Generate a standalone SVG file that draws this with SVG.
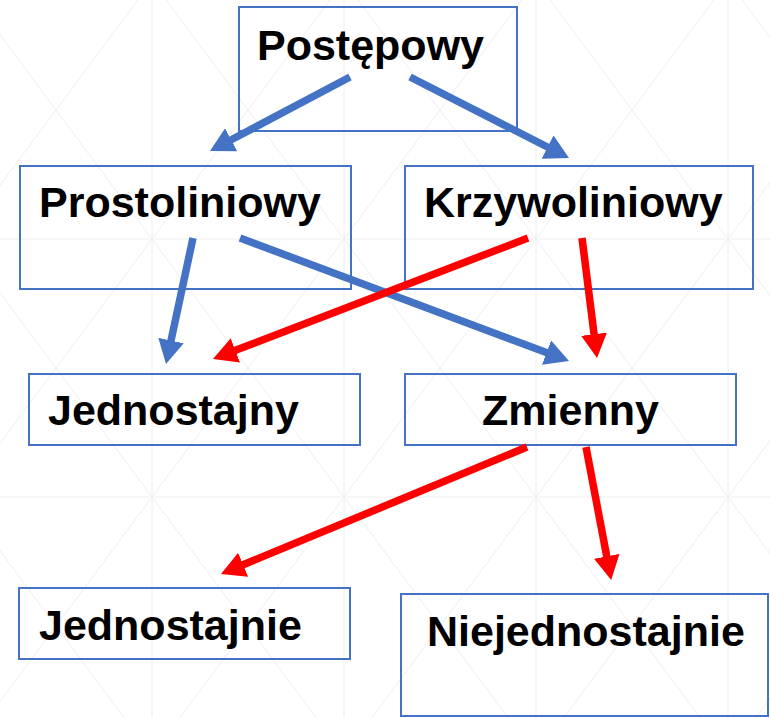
<svg xmlns="http://www.w3.org/2000/svg" width="770" height="718" viewBox="0 0 770 718">
  <style>
    .bg line { stroke: #eeeeee; stroke-width: 1; }
    .box { fill: none; stroke: #4472C4; stroke-width: 2; }
    .lbl { font-family: "Liberation Sans", Arial, sans-serif; font-weight: bold; font-size: 43px; fill: #000000; }
    .blue { stroke: #4472C4; stroke-width: 7.5; fill: none; }
    .red { stroke: #FF0000; stroke-width: 7.5; fill: none; }
  </style>
  <defs>
    <marker id="ahBlue" markerUnits="userSpaceOnUse" markerWidth="24" markerHeight="26" refX="2" refY="13" orient="auto" viewBox="0 0 24 26">
      <path d="M0,0 L24,13 L0,26 Z" fill="#4472C4"/>
    </marker>
    <marker id="ahRed" markerUnits="userSpaceOnUse" markerWidth="24" markerHeight="26" refX="2" refY="13" orient="auto" viewBox="0 0 24 26">
      <path d="M0,0 L24,13 L0,26 Z" fill="#FF0000"/>
    </marker>
  </defs>
  <rect x="0" y="0" width="770" height="718" fill="#ffffff"/>
  <g class="bg">
    <line x1="152" y1="0" x2="152" y2="718"/>
    <line x1="344" y1="0" x2="344" y2="718"/>
    <line x1="536" y1="0" x2="536" y2="718"/>
    <line x1="728" y1="0" x2="728" y2="718"/>
    <line x1="0" y1="239" x2="770" y2="239"/>
    <line x1="0" y1="497" x2="770" y2="497"/>
    <line x1="-409.9" y1="0" x2="124.4" y2="718"/>
    <line x1="-217.9" y1="0" x2="316.4" y2="718"/>
    <line x1="-25.9" y1="0" x2="508.4" y2="718"/>
    <line x1="166.1" y1="0" x2="700.4" y2="718"/>
    <line x1="358.1" y1="0" x2="892.4" y2="718"/>
    <line x1="550.1" y1="0" x2="1084.4" y2="718"/>
    <line x1="742.1" y1="0" x2="1276.4" y2="718"/>
    <line x1="137.9" y1="0" x2="-396.4" y2="718"/>
    <line x1="329.9" y1="0" x2="-204.4" y2="718"/>
    <line x1="521.9" y1="0" x2="-12.4" y2="718"/>
    <line x1="713.9" y1="0" x2="179.6" y2="718"/>
    <line x1="905.9" y1="0" x2="371.6" y2="718"/>
    <line x1="1097.9" y1="0" x2="563.6" y2="718"/>
    <line x1="1289.9" y1="0" x2="755.6" y2="718"/>
  </g>
  <g id="postepowy">
    <rect class="box" x="239" y="7" width="278" height="124"/>
    <text class="lbl" x="257" y="60">Postępowy</text>
  </g>
  <g id="prostoliniowy">
    <rect class="box" x="20" y="166" width="331" height="123"/>
    <text class="lbl" x="39" y="217">Prostoliniowy</text>
  </g>
  <g id="krzywoliniowy">
    <rect class="box" x="405" y="166" width="348" height="123"/>
    <text class="lbl" x="424" y="217">Krzywoliniowy</text>
  </g>
  <g id="jednostajny">
    <rect class="box" x="29" y="374" width="331" height="71"/>
    <text class="lbl" x="48" y="425">Jednostajny</text>
  </g>
  <g id="zmienny">
    <rect class="box" x="405" y="374" width="331" height="71"/>
    <text class="lbl" x="570.5" y="425" text-anchor="middle">Zmienny</text>
  </g>
  <g id="jednostajnie">
    <rect class="box" x="19" y="588" width="331" height="71"/>
    <text class="lbl" x="39" y="640">Jednostajnie</text>
  </g>
  <g id="niejednostajnie">
    <rect class="box" x="401" y="594" width="367" height="122"/>
    <text class="lbl" x="427" y="646">Niejednostajnie</text>
  </g>
  <g id="connectors">
    <line class="blue" x1="350" y1="77" x2="229.4" y2="140.7" marker-end="url(#ahBlue)"/>
    <line class="blue" x1="410" y1="77" x2="549.4" y2="148.0" marker-end="url(#ahBlue)"/>
    <line class="blue" x1="193" y1="238" x2="170.6" y2="342.5" marker-end="url(#ahBlue)"/>
    <line class="blue" x1="240" y1="238" x2="548.4" y2="353.3" marker-end="url(#ahBlue)"/>
    <line class="red" x1="528" y1="238" x2="233.5" y2="351.1" marker-end="url(#ahRed)"/>
    <line class="red" x1="582" y1="238" x2="594.3" y2="336.2" marker-end="url(#ahRed)"/>
    <line class="red" x1="527" y1="447" x2="241.3" y2="565.5" marker-end="url(#ahRed)"/>
    <line class="red" x1="586" y1="447" x2="607.1" y2="558.3" marker-end="url(#ahRed)"/>
  </g>
</svg>
